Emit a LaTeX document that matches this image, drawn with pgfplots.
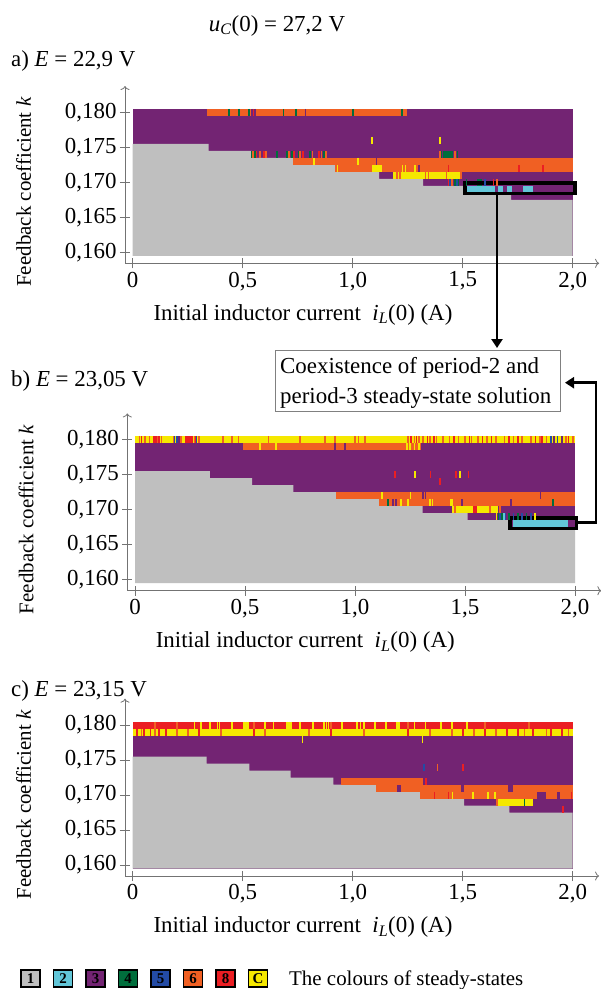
\documentclass[border=0pt]{standalone}
\usepackage{pgfplots}
\pgfplotsset{compat=1.18}
\usepackage{fontspec}
\setmainfont{Liberation Serif}
\usetikzlibrary{arrows.meta}
\definecolor{cG}{RGB}{191,191,191}
\definecolor{cC}{RGB}{98,198,216}
\definecolor{cP}{RGB}{115,36,115}
\definecolor{cGr}{RGB}{0,110,60}
\definecolor{cB}{RGB}{35,75,165}
\definecolor{cO}{RGB}{240,96,35}
\definecolor{cR}{RGB}{235,30,35}
\definecolor{cY}{RGB}{245,232,0}
\newcommand{\rect}[5]{\addplot[draw=none,fill=#1] coordinates {(#2,#4) (#3,#4) (#3,#5) (#2,#5)};}
\pgfplotsset{
  stripe/.style={only marks, mark=|, mark size=3.5bp, color=#1, mark options={line width=1.6bp, draw=#1}},
  panel/.style={
    scale only axis, width=474.1bp, height=177.3bp,
    xmin=-0.035, xmax=2.12, ymin=0.15843, ymax=0.18376,
    axis lines=left, clip=false,
    axis line style={draw=black!55, line width=0.8bp, -{To[length=4bp,width=9bp]}},
    xtick={0,0.5,1,1.5,2}, xticklabels={0,{0,5},{1,0},{1,5},{2,0}},
    ytick={0.16,0.165,0.17,0.175,0.18},
    yticklabels={{0,160},{0,165},{0,170},{0,175},{0,180}},
    tick align=center, major tick length=10bp,
    tick style={draw=black!55, line width=0.8bp},
    tick label style={font=\fontsize{23}{23}\selectfont},
    xlabel={Initial inductor current\ \ \textit{i}\textsubscript{\textit{L}}(0) (A)},
    ylabel={Feedback coefficient \textit{k}},
    xlabel style={at={(axis description cs:0.3754,-0.3198)}, anchor=base, font=\fontsize{23}{23}\selectfont},
    ylabel style={at={(axis description cs:-0.1983,0.402)}, anchor=base, rotate=0, font=\fontsize{21}{21}\selectfont},
  }
}
\begin{document}
\begin{tikzpicture}
\useasboundingbox (0,0) rectangle (601bp,-989bp);
\fill[white] (0,0) rectangle (601bp,-989bp);
\node[anchor=base, font=\fontsize{23}{23}\selectfont] at (277bp,-31bp) {\textit{u}\textsubscript{\textit{C}}(0) = 27,2 V};
\node[anchor=base west, font=\fontsize{23}{23}\selectfont, inner sep=0pt] at (11bp,-66bp) {a) \textit{E} = 22,9 V};
\node[anchor=base west, font=\fontsize{23}{23}\selectfont, inner sep=0pt] at (11bp,-386bp) {b) \textit{E} = 23,05 V};
\node[anchor=base west, font=\fontsize{23}{23}\selectfont, inner sep=0pt] at (11bp,-696bp) {c) \textit{E} = 23,15 V};

% ---------------- panel a ----------------
\begin{axis}[panel, at={(125bp,-263.3bp)}, anchor=south west]
\rect{cP}{0}{2}{0.1595}{0.1805}
\addplot[draw=none,fill=cG] coordinates {(0,0.1595) (2,0.1595) (2,0.1675) (1.72,0.1675) (1.72,0.1685) (1.51,0.1685) (1.51,0.1695) (1.32,0.1695) (1.32,0.1705) (1.12,0.1705) (1.12,0.1715) (0.92,0.1715) (0.92,0.1725) (0.73,0.1725) (0.73,0.1735) (0.54,0.1735) (0.54,0.1745) (0.345,0.1745) (0.345,0.1755) (0,0.1755)};
\rect{cO}{0.339}{1.245}{0.1795}{0.1805}
\rect{cO}{0.73}{2}{0.1725}{0.1735}
\rect{cO}{0.92}{2}{0.1715}{0.1725}
\rect{cY}{1.089}{1.132}{0.1715}{0.1725}
\rect{cY}{1.182}{1.49}{0.1705}{0.1715}
\rect{cGr}{1.412}{1.458}{0.1735}{0.1745}
\rect{cGr}{1.563}{1.586}{0.1695}{0.1705}
\rect{cC}{1.515}{1.647}{0.1685}{0.1695}
\rect{cC}{1.662}{1.685}{0.1685}{0.1695}
\rect{cC}{1.700}{1.725}{0.1685}{0.1695}
\rect{cC}{1.775}{1.820}{0.1685}{0.1695}
\addplot[stripe=cGr] coordinates {(0.438,0.180) (0.482,0.180) (0.528,0.180) (0.685,0.180) (0.741,0.180) (1.0,0.180) (1.225,0.180)};
\addplot[stripe=cP] coordinates {(0.541,0.180) (0.557,0.180) (0.785,0.180)};
\addplot[stripe=cR] coordinates {(0.549,0.180)};
\addplot[stripe=cY] coordinates {(1.089,0.176) (1.397,0.176)};
\addplot[stripe=cGr] coordinates {(0.540,0.174) (0.555,0.174) (0.655,0.174) (0.70,0.174) (0.723,0.174) (0.753,0.174) (0.806,0.174) (0.87,0.174) (1.404,0.174) (1.476,0.174)};
\addplot[stripe=cO] coordinates {(0.548,0.174) (0.578,0.174) (0.606,0.174) (0.71,0.174) (0.76,0.174) (0.818,0.174) (0.859,0.174) (0.879,0.174) (1.397,0.174) (1.465,0.174)};
\addplot[stripe=cR] coordinates {(0.563,0.174) (0.597,0.174) (0.733,0.174) (0.773,0.174) (0.847,0.174)};
\addplot[stripe=cY] coordinates {(0.825,0.173) (1.023,0.173)};
\addplot[stripe=cP] coordinates {(1.109,0.173)};
\addplot[stripe=cY] coordinates {(0.93,0.172) (1.227,0.172) (1.24,0.172) (1.283,0.172)};
\addplot[stripe=cP] coordinates {(1.30,0.172)};
\addplot[stripe=cR] coordinates {(1.435,0.172) (1.756,0.172) (1.866,0.172)};
\addplot[stripe=cO] coordinates {(1.20,0.171) (1.215,0.171) (1.33,0.171) (1.345,0.171) (1.427,0.171) (1.492,0.171)};
\addplot[stripe=cR] coordinates {(1.435,0.170) (1.64,0.170)};
\addplot[stripe=cB] coordinates {(1.442,0.170) (1.473,0.170) (1.601,0.170)};
\addplot[stripe=cO] coordinates {(1.45,0.170) (1.655,0.170)};
\addplot[stripe=cGr] coordinates {(1.465,0.170) (1.48,0.170) (1.518,0.170)};
\addplot[black, line width=3.5bp, line join=miter] coordinates {(1.51,0.16843) (2.01,0.16843) (2.01,0.16993) (1.51,0.16993) (1.51,0.16843) (2.01,0.16843)};
\end{axis}

% ---------------- panel b ----------------
\begin{axis}[panel, at={(127.3bp,-590.7bp)}, anchor=south west]
\rect{cP}{0}{2}{0.1595}{0.1805}
\addplot[draw=none,fill=cG] coordinates {(0,0.1595) (2,0.1595) (2,0.1675) (1.71,0.1675) (1.71,0.1685) (1.512,0.1685) (1.512,0.1695) (1.307,0.1695) (1.307,0.1705) (1.109,0.1705) (1.109,0.1715) (0.914,0.1715) (0.914,0.1725) (0.72,0.1725) (0.72,0.1735) (0.532,0.1735) (0.532,0.1745) (0.34,0.1745) (0.34,0.1755) (0,0.1755)};
\rect{cY}{0}{2}{0.1795}{0.1805}
\rect{cR}{0.228}{0.262}{0.1795}{0.1805}
\rect{cO}{0.492}{1.30}{0.1785}{0.1795}
\rect{cO}{0.914}{2}{0.1715}{0.1725}
\rect{cO}{1.109}{2}{0.1705}{0.1715}
\rect{cY}{1.439}{1.538}{0.1695}{0.1705}
\rect{cR}{1.538}{1.553}{0.1695}{0.1705}
\rect{cY}{1.553}{1.652}{0.1695}{0.1705}
\rect{cC}{1.72}{1.97}{0.1675}{0.1685}
\addplot[stripe=cO] coordinates {(0.02,0.18) (0.045,0.18) (0.065,0.18) (0.10,0.18) (0.12,0.18) (0.175,0.18) (0.21,0.18) (0.27,0.18) (0.29,0.18) (0.40,0.18) (0.44,0.18) (0.47,0.18) (0.606,0.18) (0.75,0.18) (0.864,0.18) (0.909,0.18) (1.0,0.18) (1.015,0.18) (1.045,0.18) (1.24,0.18) (1.27,0.18) (1.29,0.18) (1.31,0.18) (1.34,0.18) (1.37,0.18) (1.40,0.18) (1.43,0.18) (1.47,0.18) (1.50,0.18) (1.53,0.18) (1.56,0.18) (1.60,0.18) (1.64,0.18) (1.68,0.18) (1.72,0.18) (1.76,0.18) (1.80,0.18) (1.84,0.18) (1.87,0.18) (1.96,0.18) (1.99,0.18)};
\addplot[stripe=cR] coordinates {(0.03,0.18) (0.085,0.18) (0.095,0.18) (0.11,0.18) (0.275,0.18) (1.255,0.18) (1.28,0.18) (1.33,0.18) (1.36,0.18) (1.45,0.18) (1.52,0.18) (1.58,0.18) (1.62,0.18) (1.70,0.18) (1.74,0.18) (1.82,0.18) (1.85,0.18) (1.97,0.18)};
\addplot[stripe=cB] coordinates {(0.18,0.18) (0.19,0.18) (0.28,0.18) (1.89,0.18) (1.92,0.18)};
\addplot[stripe=cP] coordinates {(0.20,0.18) (1.905,0.18) (1.94,0.18)};
\addplot[stripe=cY] coordinates {(0.568,0.179) (0.641,0.179) (1.235,0.179) (1.25,0.179) (1.27,0.179) (1.29,0.179)};
\addplot[stripe=cP] coordinates {(0.909,0.179) (0.955,0.179)};
\addplot[stripe=cR] coordinates {(1.182,0.175) (1.344,0.175) (1.458,0.175) (1.515,0.175)};
\addplot[stripe=cY] coordinates {(1.273,0.175) (1.477,0.175)};
\addplot[stripe=cR] coordinates {(1.386,0.174)};
\addplot[stripe=cY] coordinates {(1.124,0.172) (1.253,0.172)};
\addplot[stripe=cP] coordinates {(1.31,0.172) (1.32,0.172) (1.844,0.172)};
\addplot[stripe=cGr] coordinates {(1.151,0.171) (1.899,0.171)};
\addplot[stripe=cP] coordinates {(1.174,0.171) (1.185,0.171) (1.485,0.171) (1.708,0.171)};
\addplot[stripe=cY] coordinates {(1.209,0.171) (1.24,0.171) (1.341,0.171) (1.352,0.171) (1.435,0.171) (1.442,0.171)};
\addplot[stripe=cO] coordinates {(1.455,0.170) (1.614,0.170) (1.659,0.170)};
\addplot[stripe=cY] coordinates {(1.644,0.169) (1.818,0.169)};
\addplot[stripe=cGr] coordinates {(1.652,0.169) (1.668,0.169) (1.70,0.169) (1.74,0.169) (1.78,0.169)};
\addplot[stripe=cB] coordinates {(1.66,0.169) (1.684,0.169) (1.72,0.169) (1.76,0.169) (1.80,0.169)};
\addplot[stripe=cC] coordinates {(1.676,0.169)};
\addplot[black, line width=3.5bp, line join=miter] coordinates {(1.705,0.16729) (2.007,0.16729) (2.007,0.16882) (1.705,0.16882) (1.705,0.16729) (2.007,0.16729)};
\end{axis}

% ---------------- panel c ----------------
\begin{axis}[panel, at={(125bp,-876bp)}, anchor=south west]
\rect{cP}{0}{2}{0.1595}{0.1805}
\addplot[draw=none,fill=cG] coordinates {(0,0.1595) (2,0.1595) (2,0.1675) (1.712,0.1675) (1.712,0.1685) (1.507,0.1685) (1.507,0.1695) (1.306,0.1695) (1.306,0.1705) (1.106,0.1705) (1.106,0.1715) (0.912,0.1715) (0.912,0.1725) (0.718,0.1725) (0.718,0.1735) (0.53,0.1735) (0.53,0.1745) (0.336,0.1745) (0.336,0.1755) (0,0.1755)};
\rect{cR}{0}{2}{0.1795}{0.1805}
\rect{cY}{0}{2}{0.1785}{0.1795}
\rect{cO}{0.945}{1.321}{0.1715}{0.1725}
\rect{cO}{1.106}{2}{0.1705}{0.1715}
\rect{cP}{1.2}{1.218}{0.1705}{0.1715}
\rect{cP}{1.491}{1.506}{0.1705}{0.1715}
\rect{cP}{1.707}{1.73}{0.1705}{0.1715}
\rect{cO}{1.306}{2}{0.1695}{0.1705}
\rect{cP}{1.836}{1.879}{0.1695}{0.1705}
\rect{cP}{1.927}{1.942}{0.1695}{0.1705}
\rect{cY}{1.654}{1.821}{0.1685}{0.1695}
\addplot[stripe=cY] coordinates {(0.28,0.18) (0.31,0.18) (0.35,0.18) (0.385,0.18) (0.395,0.18) (0.45,0.18) (0.505,0.18) (0.515,0.18) (0.525,0.18) (0.6,0.18) (0.64,0.18) (0.70,0.18) (0.71,0.18) (0.72,0.18) (0.76,0.18) (0.82,0.18) (0.87,0.18) (0.88,0.18) (0.89,0.18) (0.95,0.18) (1.02,0.18) (1.035,0.18) (1.05,0.18) (1.1,0.18) (1.15,0.18) (1.2,0.18) (1.21,0.18) (1.28,0.18) (1.33,0.18) (1.40,0.18) (1.45,0.18) (1.52,0.18)};
\addplot[stripe=cO] coordinates {(0.1,0.18) (0.2,0.18) (0.55,0.18) (0.9,0.18) (1.25,0.18) (1.6,0.18) (1.8,0.18)};
\addplot[stripe=cR] coordinates {(0.02,0.179) (0.05,0.179) (0.08,0.179) (0.12,0.179) (0.15,0.179) (0.30,0.179) (0.55,0.179) (0.90,0.179) (1.25,0.179) (1.50,0.179) (1.60,0.179) (1.70,0.179) (1.75,0.179) (1.82,0.179) (1.90,0.179) (1.95,0.179)};
\addplot[stripe=cO] coordinates {(0.04,0.179) (0.10,0.179) (0.20,0.179) (0.25,0.179) (0.40,0.179) (0.60,0.179) (0.80,0.179) (1.05,0.179) (1.35,0.179) (1.45,0.179) (1.55,0.179) (1.65,0.179) (1.78,0.179) (1.88,0.179) (1.98,0.179)};
\addplot[stripe=cY] coordinates {(0.771,0.178) (1.318,0.178)};
\addplot[stripe=cB] coordinates {(1.325,0.174)};
\addplot[stripe=cO] coordinates {(1.385,0.174)};
\addplot[stripe=cR] coordinates {(1.5,0.174) (1.333,0.172) (1.371,0.170) (1.435,0.170) (1.995,0.170) (1.955,0.168)};
\addplot[stripe=cY] coordinates {(1.453,0.170) (1.548,0.170) (1.616,0.170) (1.647,0.170)};
\addplot[stripe=cO] coordinates {(1.656,0.169)};
\addplot[stripe=cGr] coordinates {(1.78,0.169)};
\end{axis}

% arrows and annotation
\draw[line width=2.5bp, -{Triangle[length=9bp,width=11bp]}] (497bp,-195bp) -- (497bp,-348bp);
\draw[line width=2.5bp, line join=miter, -{Triangle[length=9bp,width=11bp]}] (578bp,-522.5bp) -- (596bp,-522.5bp) -- (596bp,-382.7bp) -- (565bp,-382.7bp);
\draw[draw=black!50, line width=1bp, fill=white] (275bp,-350bp) rectangle (560.7bp,-411bp);
\node[anchor=base west, inner sep=0pt, font=\fontsize{23}{23}\selectfont] at (280bp,-373bp) {Coexistence of period-2 and};
\node[anchor=base west, inner sep=0pt, font=\fontsize{23}{23}\selectfont] at (280bp,-403bp) {period-3 steady-state solution};

% colour key
\foreach \c/\t [count=\i from 0] in {cG/1,cC/2,cP/3,cGr/4,cB/5,cO/6,cR/8,cY/C}{
  \node[draw=black, line width=1.5bp, fill=\c, minimum width=19bp, minimum height=17bp, inner sep=0pt, font=\bfseries\fontsize{15}{15}\selectfont] at ({30.5bp+32.5bp*\i},-978.3bp) {\t};
}
\node[anchor=base west, inner sep=0pt, font=\fontsize{21}{21}\selectfont] at (289bp,-985bp) {The colours of steady-states};
\end{tikzpicture}
\end{document}
